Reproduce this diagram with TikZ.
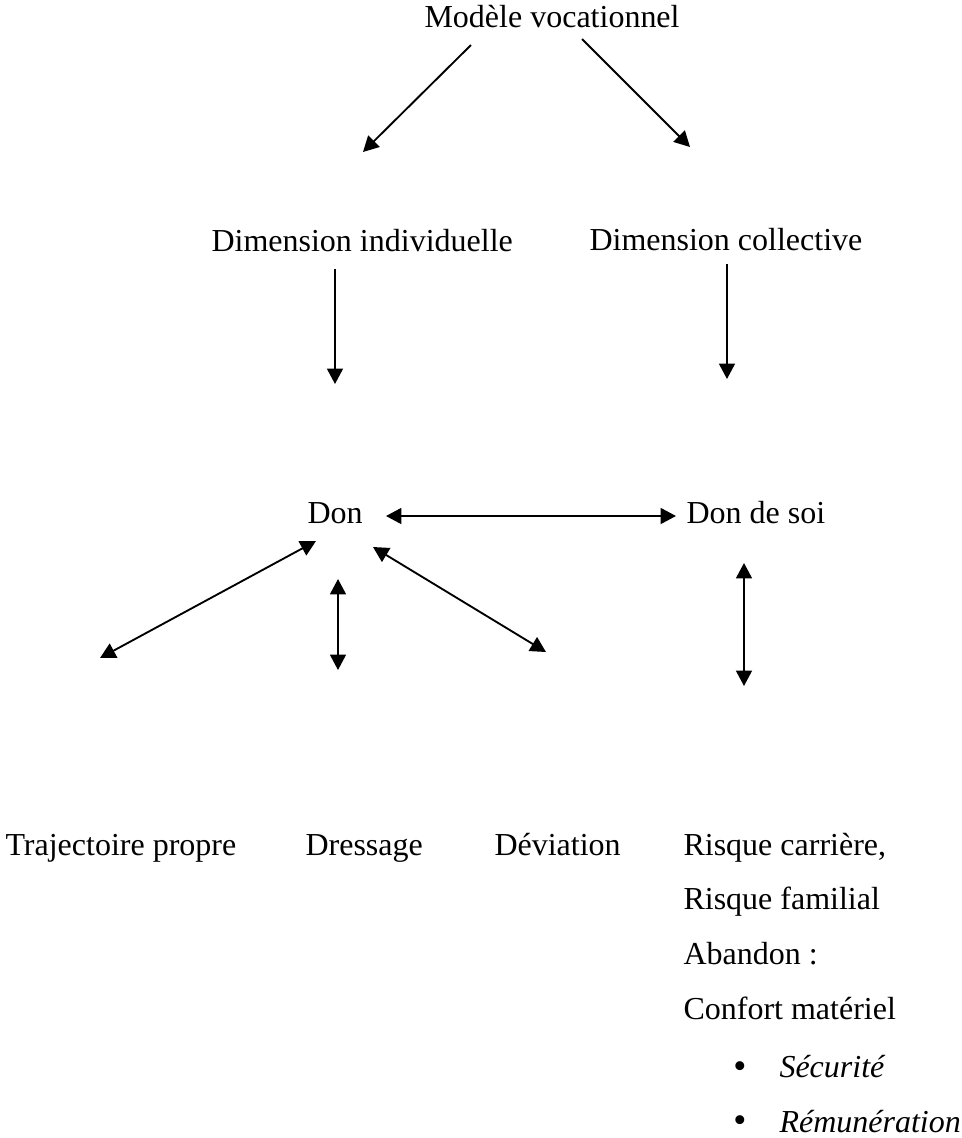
\documentclass[tikz,border=0pt]{standalone}
\usepackage{fontspec}
\setmainfont{Liberation Serif}
\usetikzlibrary{arrows.meta, positioning}
\tikzset{
	word/.style={inner sep=0pt, anchor=base west, font=\fontsize{12}{14}\selectfont},
	itword/.style={word, font=\fontsize{12}{14}\selectfont\itshape},
	puce/.style={word, anchor=base, font=\fontsize{14}{16}\selectfont},
	arrow/.style={-{Triangle[length=5.8pt, width=6pt]}, line width=0.7pt},
	twoway/.style={{Triangle[length=5.8pt, width=6pt]}-{Triangle[length=5.8pt, width=6pt]}, line width=0.7pt},
}

\begin{document}
\begin{tikzpicture}[x=0.375pt, y=-0.375pt]
	\useasboundingbox (0,0) rectangle (962,1138);
	% texts
	\node[word] (modele) at (424,27) {Modèle vocationnel};
	\node[word] (indiv) at (211,251) {Dimension individuelle};
	\node[word] (collect) at (589,250) {Dimension collective};
	\node[word] (don) at (307,523) {Don};
	\node[word] (donsoi) at (686,523) {Don de soi};
	\node[word] (traj) at (5,855) {Trajectoire propre};
	\node[word] (dress) at (305,855) {Dressage};
	\node[word] (devia) at (494,855) {Déviation};
	\node[word] (risque) at (683,855) {Risque carrière,};
	\node[word, below=20.6pt of risque.base west, anchor=base west] (famil) {Risque familial};
	\node[word, below=20.6pt of famil.base west, anchor=base west] (aband) {Abandon :};
	\node[word, below=20.6pt of aband.base west, anchor=base west] (confort) {Confort matériel};
	\node[puce] (puce1) at (740,1078) {•};
	\node[itword] (secu) at (779,1077) {Sécurité};
	\node[puce] (puce2) at (740,1132) {•};
	\node[itword] (remu) at (779,1132) {Rémunération};
	% arrow ends
	\coordinate (modele-l) at (471,45);
	\coordinate (modele-r) at (582,39);
	\coordinate (indiv-in) at (363,152);
	\coordinate (collect-in) at (690,147);
	\coordinate (indiv-out) at (335,269);
	\coordinate (indiv-end) at (335,384);
	\coordinate (collect-out) at (727,264);
	\coordinate (collect-end) at (727,379);
	\coordinate (don-r) at (386,516);
	\coordinate (donsoi-l) at (676,516);
	\coordinate (don-sw) at (316,541);
	\coordinate (traj-top) at (100,658);
	\coordinate (don-s) at (338,579);
	\coordinate (dress-top) at (338,670);
	\coordinate (don-se) at (373,547);
	\coordinate (devia-top) at (546,652);
	\coordinate (donsoi-s) at (744,563);
	\coordinate (risque-top) at (744,686);
	% arrows
	\draw[arrow] (modele-l) -- (indiv-in);
	\draw[arrow] (modele-r) -- (collect-in);
	\draw[arrow] (indiv-out) -- (indiv-end);
	\draw[arrow] (collect-out) -- (collect-end);
	\draw[twoway] (don-r) -- (donsoi-l);
	\draw[twoway] (don-sw) -- (traj-top);
	\draw[twoway] (don-s) -- (dress-top);
	\draw[twoway] (don-se) -- (devia-top);
	\draw[twoway] (donsoi-s) -- (risque-top);
\end{tikzpicture}
\end{document}
